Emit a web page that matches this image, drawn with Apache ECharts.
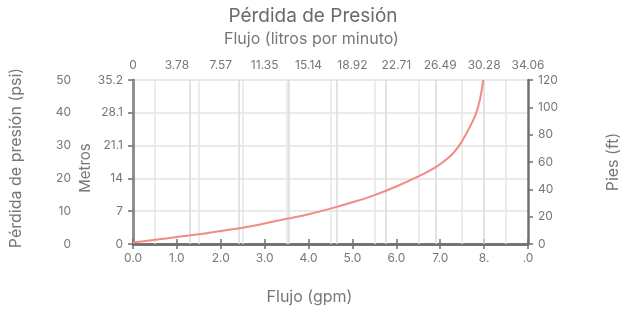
<!DOCTYPE html>
<html>
<head>
<meta charset="utf-8">
<script src="https://cdn.jsdelivr.net/npm/echarts@6/dist/echarts.min.js"></script>
<style>
  html, body { margin: 0; padding: 0; background: #fff; }
  #chart { width: 623px; height: 311px; }
</style>
</head>
<body>
<div id="chart"></div>
<script>
  // caudal en gpm y perdida en metros
  var flowGpm = [0, 0.5, 1.0, 1.5, 2.0, 2.5, 3.0, 3.5, 4.0, 4.5, 5.0, 5.5, 6.0, 6.5, 6.9, 7.2, 7.4, 7.6, 7.8, 7.9, 7.98]
  var lossMetros = [0.3, 0.9, 1.5, 2.1, 2.8, 3.5, 4.4, 5.4, 6.4, 7.6, 8.95, 10.5, 12.35, 14.5, 16.5, 18.6, 20.7, 23.8, 27.6, 30.8, 35.2]

  var gpmLabels = ['0.0', '1.0', '2.0', '3.0', '4.0', '5.0', '6.0', '7.0', '8.', '.0']
  var lpmLabels = ['0', '3.78', '7.57', '11.35', '15.14', '18.92', '22.71', '26.49', '30.28', '34.06']
  var metrosLabels = ['0', '7', '14', '21.1', '28.1', '35.2']

  // lineas verticales del fondo
  var gridHalfX = [0.5, 1.5, 2.5, 3.5, 4.5, 5.5, 6.5, 7.5, 8.5]
  var gridOtherX = [1.29, 2.42, 3.55, 4.65, 5.77, 6.89, 7.99]

  var textColor = '#777'
  var frameColor = '#707070'
  var font = 'Inter'

  var chart = echarts.init(document.getElementById('chart'))

  function frameAxis(extra) {
    var base = {
      axisLine: { show: true, lineStyle: { color: frameColor, width: 2.5 } },
      axisTick: { show: true, inside: false, length: 5, lineStyle: { color: frameColor, width: 1.5 } },
      axisLabel: { color: textColor, fontSize: 12, fontFamily: font },
      splitLine: { show: false },
      nameTextStyle: { color: textColor, fontSize: 16, fontFamily: font }
    }
    return Object.assign(base, extra)
  }

  var series = []
  series.push({
    type: 'line',
    data: [],
    z: 1,
    silent: true,
    markLine: {
      silent: true,
      symbol: 'none',
      label: { show: false },
      lineStyle: { color: '#e6e6e6', width: 1.5, type: 'solid' },
      data: gridHalfX.map(function (v) { return { xAxis: v } })
    }
  })
  series.push({
    type: 'line',
    data: [],
    z: 1,
    silent: true,
    markLine: {
      silent: true,
      symbol: 'none',
      label: { show: false },
      lineStyle: { color: '#d9d9d9', width: 1.5, type: 'solid' },
      data: gridOtherX.map(function (v) { return { xAxis: v } })
    }
  })
  var points = []
  for (var i = 0; i < flowGpm.length; i++) {
    points.push([flowGpm[i], lossMetros[i]])
  }
  series.push({
    type: 'line',
    xAxisIndex: 0,
    yAxisIndex: 0,
    z: 5,
    smooth: 0.4,
    showSymbol: false,
    lineStyle: { color: '#f28b82', width: 2 },
    data: points
  })

  chart.setOption({
    animation: false,
    title: {
      text: 'Pérdida de Presión',
      left: 308,
      top: 2,
      textAlign: 'center',
      textStyle: { color: '#6a6a6a', fontSize: 19, fontWeight: 'normal', fontFamily: font }
    },
    grid: { left: 133, right: 95, top: 80, bottom: 67, outerBoundsMode: 'none' },
    xAxis: [
      frameAxis({
        type: 'value',
        position: 'bottom',
        min: 0, max: 9, interval: 1,
        name: 'Flujo (gpm)',
        nameLocation: 'middle',
        nameGap: 45,
        nameTextStyle: { color: textColor, fontSize: 16, fontFamily: font, padding: [0, 42, 0, 0] },
        axisLabel: {
          color: textColor, fontSize: 12, fontFamily: font, margin: 8,
          formatter: function (v, idx) { return gpmLabels[idx] }
        }
      }),
      frameAxis({
        type: 'value',
        position: 'top',
        min: 0, max: 9, interval: 1,
        name: 'Flujo (litros por minuto)',
        nameLocation: 'middle',
        nameGap: 33,
        nameTextStyle: { color: textColor, fontSize: 16, fontFamily: font, padding: [0, 38, 0, 0] },
        axisLabel: {
          color: textColor, fontSize: 12, fontFamily: font, margin: 9,
          formatter: function (v, idx) { return lpmLabels[idx] }
        }
      })
    ],
    yAxis: [
      frameAxis({
        type: 'value',
        position: 'left',
        min: 0, max: 35.2, interval: 7.04,
        name: 'Metros',
        nameLocation: 'middle',
        nameRotate: 90,
        nameGap: 40,
        nameMoveOverlap: false,
        nameTextStyle: { color: textColor, fontSize: 15, fontFamily: font, padding: [0, 12, 0, 0] },
        axisLabel: {
          color: textColor, fontSize: 12, fontFamily: font, margin: 10,
          formatter: function (v, idx) { return metrosLabels[idx] }
        },
        splitLine: { show: true, lineStyle: { color: '#e3e3e3', width: 1.5 } }
      }),
      {
        type: 'value',
        position: 'left',
        offset: 56,
        min: 0, max: 50, interval: 10,
        name: 'Pérdida de presión (psi)',
        nameLocation: 'middle',
        nameRotate: 90,
        nameGap: 53,
        nameTextStyle: { color: textColor, fontSize: 16, fontFamily: font, padding: [0, 0, 0, 8] },
        axisLine: { show: true, lineStyle: { color: '#8a8a8a', width: 1 } },
        axisTick: { show: true, length: 4, lineStyle: { color: '#8a8a8a', width: 1 } },
        axisLabel: { color: textColor, fontSize: 12, fontFamily: font, margin: 6 },
        splitLine: { show: false }
      },
      frameAxis({
        type: 'value',
        position: 'right',
        min: 0, max: 120, interval: 20,
        name: 'Pies (ft)',
        nameLocation: 'middle',
        nameRotate: 90,
        nameGap: 77,
        axisLabel: { color: textColor, fontSize: 12, fontFamily: font, margin: 10 }
      })
    ],
    series: series
  })
</script>
</body>
</html>
